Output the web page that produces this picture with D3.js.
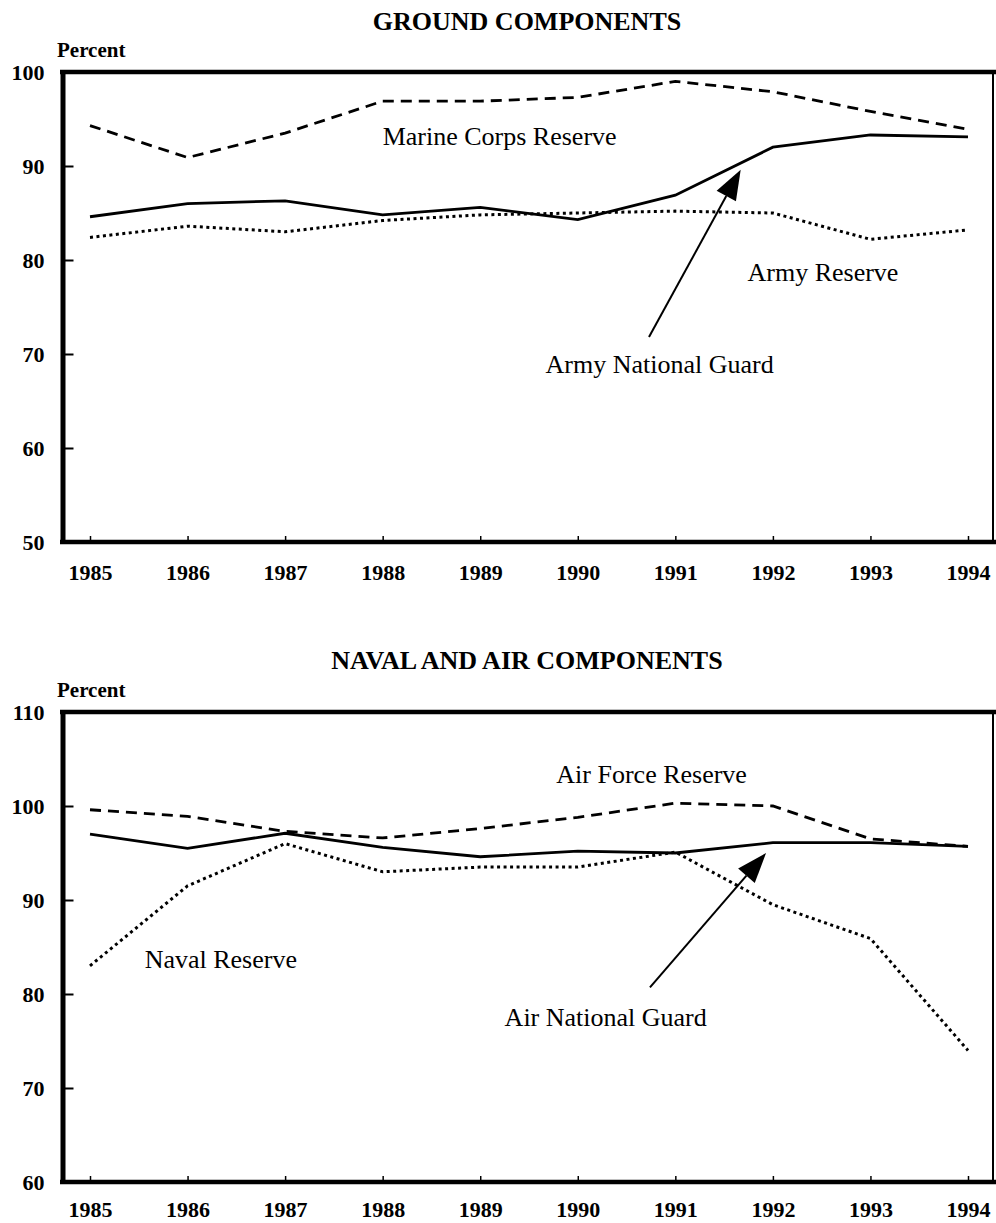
<!DOCTYPE html>
<html>
<head>
<meta charset="utf-8">
<script src="https://cdn.jsdelivr.net/npm/d3@7"></script>
<style>
  body { margin: 0; background: #fff; }
  svg { display: block; }
  text { font-family: "Liberation Serif", "Times New Roman", serif; fill: #000; }
  .tick text { font-weight: bold; font-size: 22px; }
  .title { font-weight: bold; font-size: 26px; }
  .unit { font-weight: bold; font-size: 21px; }
  .note { font-size: 26px; }
</style>
</head>
<body>
<svg width="996" height="1223"></svg>
<script>
// data
var years = [1985, 1986, 1987, 1988, 1989, 1990, 1991, 1992, 1993, 1994];

var marineCorpsReserve = [94.3, 90.9, 93.5, 96.9, 96.9, 97.3, 99.0, 97.9, 95.8, 93.9];
var armyNationalGuard  = [84.6, 86.0, 86.3, 84.8, 85.6, 84.3, 86.9, 92.0, 93.3, 93.1];
var armyReserve        = [82.4, 83.6, 83.0, 84.2, 84.8, 85.0, 85.2, 85.0, 82.2, 83.2];

var airForceReserve    = [99.6, 98.9, 97.3, 96.6, 97.6, 98.8, 100.3, 100.0, 96.5, 95.7];
var airNationalGuard   = [97.0, 95.5, 97.1, 95.6, 94.6, 95.2, 95.0, 96.1, 96.1, 95.7];
var navalReserve       = [83.0, 91.5, 96.0, 93.0, 93.5, 93.5, 95.1, 89.5, 85.9, 74.0];

var groundTicks = [50, 60, 70, 80, 90, 100];
var navalTicks  = [60, 70, 80, 90, 100, 110];

var svg = d3.select('svg');

var xScale = d3.scaleLinear().domain([1985, 1994]).range([90, 968]);

function drawPanel(opt) {
    var y = d3.scaleLinear().domain(opt.domain).range([opt.bottom, opt.top]);
    var g = svg.append('g');

    // title and unit label
    g.append('text').attr('class', 'title')
        .attr('x', 527).attr('y', opt.titleY)
        .attr('text-anchor', 'middle')
        .text(opt.title);
    g.append('text').attr('class', 'unit')
        .attr('x', 57).attr('y', opt.top - 15)
        .text('Percent');

    // frame: thick top and bottom, thin right
    g.append('line')
        .attr('x1', 60).attr('x2', 996)
        .attr('y1', opt.top).attr('y2', opt.top)
        .attr('stroke', '#000').attr('stroke-width', 4.5);
    g.append('line')
        .attr('x1', 993).attr('x2', 993)
        .attr('y1', opt.top).attr('y2', opt.bottom)
        .attr('stroke', '#000').attr('stroke-width', 2);

    var yAxisG = g.append('g')
        .attr('transform', 'translate(62.5,0)')
        .call(d3.axisLeft(y).tickValues(opt.ticks).tickSize(-11).tickSizeOuter(0).tickPadding(18));
    yAxisG.select('.domain').attr('stroke-width', 5);
    yAxisG.selectAll('.tick line').attr('stroke-width', 2);
    yAxisG.selectAll('.tick text').attr('dy', '0.35em');

    var xAxisG = g.append('g')
        .attr('transform', 'translate(0,' + opt.bottom + ')')
        .call(d3.axisBottom(xScale).tickValues(years).tickFormat(d3.format('d'))
            .tickSize(-6).tickSizeOuter(0).tickPadding(opt.xPad));
    xAxisG.select('.domain').attr('d', 'M60,0H996').attr('stroke-width', 4.5);
    xAxisG.selectAll('.tick line').attr('stroke-width', 1.5);

    var line = d3.line()
        .x(function(d, i) { return xScale(years[i]); })
        .y(function(d) { return y(d); });

    opt.series.forEach(function(s) {
        g.append('path')
            .attr('d', line(s.values))
            .attr('fill', 'none')
            .attr('stroke', '#000')
            .attr('stroke-width', s.width)
            .attr('stroke-dasharray', s.dash);
    });

    // labels placed in data units
    opt.notes.forEach(function(n) {
        g.append('text').attr('class', 'note')
            .attr('x', xScale(n.year)).attr('y', y(n.value))
            .text(n.text);
    });

    // pointer arrow
    var a = opt.arrow;
    var x1 = xScale(a.from[0]), y1 = y(a.from[1]);
    var x2 = xScale(a.to[0]), y2 = y(a.to[1]);
    var ang = Math.atan2(y2 - y1, x2 - x1);
    var len = 30, half = 11;
    var bx = x2 - len * Math.cos(ang), by = y2 - len * Math.sin(ang);
    g.append('line')
        .attr('x1', x1).attr('y1', y1).attr('x2', bx).attr('y2', by)
        .attr('stroke', '#000').attr('stroke-width', 2);
    g.append('path')
        .attr('d', 'M' + x2 + ',' + y2 +
            'L' + (bx + half * Math.sin(ang)) + ',' + (by - half * Math.cos(ang)) +
            'L' + (bx - half * Math.sin(ang)) + ',' + (by + half * Math.cos(ang)) + 'Z')
        .attr('fill', '#000');
}

drawPanel({
    title: 'GROUND COMPONENTS',
    titleY: 30,
    domain: [50, 100], top: 72, bottom: 542,
    ticks: groundTicks,
    xPad: 22,
    series: [
        { values: marineCorpsReserve, dash: '11,7', width: 2.8 },
        { values: armyNationalGuard, dash: null, width: 2.8 },
        { values: armyReserve, dash: '3,3.5', width: 3 }
    ],
    notes: [
        { text: 'Marine Corps Reserve', year: 1988.0, value: 92.2 },
        { text: 'Army Reserve', year: 1991.74, value: 77.8 },
        { text: 'Army National Guard', year: 1989.67, value: 68.0 }
    ],
    arrow: { from: [1990.73, 71.8], to: [1991.67, 89.6] }
});

drawPanel({
    title: 'NAVAL AND AIR COMPONENTS',
    titleY: 669,
    domain: [60, 110], top: 712, bottom: 1182,
    ticks: navalTicks,
    xPad: 19,
    series: [
        { values: airForceReserve, dash: '11,7', width: 2.8 },
        { values: airNationalGuard, dash: null, width: 2.8 },
        { values: navalReserve, dash: '3,3.5', width: 3 }
    ],
    notes: [
        { text: 'Air Force Reserve', year: 1989.78, value: 102.45 },
        { text: 'Naval Reserve', year: 1985.56, value: 82.8 },
        { text: 'Air National Guard', year: 1989.25, value: 76.6 }
    ],
    arrow: { from: [1990.74, 80.7], to: [1991.93, 95.0] }
});
</script>
</body>
</html>
